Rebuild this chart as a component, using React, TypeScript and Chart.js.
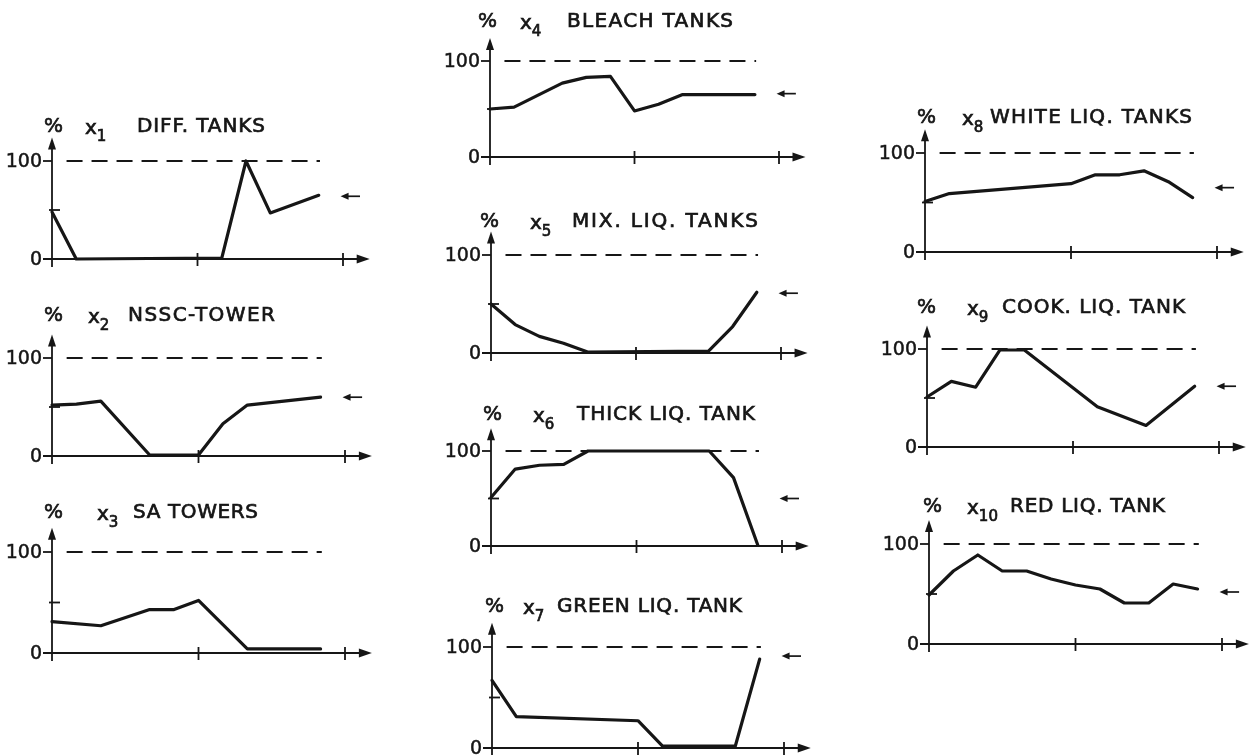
import React, { useEffect, useRef } from "react";
import { Chart, registerables } from "chart.js";

Chart.register(...registerables);

// ---------- data ----------
const panelTitles = [
  "DIFF. TANKS",
  "NSSC-TOWER",
  "SA TOWERS",
  "BLEACH TANKS",
  "MIX. LIQ. TANKS",
  "THICK LIQ. TANK",
  "GREEN LIQ. TANK",
  "WHITE LIQ. TANKS",
  "COOK. LIQ. TANK",
  "RED LIQ. TANK",
];
const panelIndices = ["1", "2", "3", "4", "5", "6", "7", "8", "9", "10"];

const diffTanksHours = [0, 2, 14, 16, 18, 22];
const diffTanksLevel = [48, 0, 1, 100, 47, 65];

const nsscTowerHours = [0, 2, 4, 8, 12, 14, 16, 22];
const nsscTowerLevel = [52, 53, 56, 1, 1, 33, 52, 60];

const saTowersHours = [0, 4, 8, 10, 12, 16, 22];
const saTowersLevel = [31, 27, 43, 43, 52, 4, 4];

const bleachTanksHours = [0, 2, 6, 8, 10, 12, 14, 16, 22];
const bleachTanksLevel = [50, 52, 77, 83, 84, 48, 55, 65, 65];

const mixLiqHours = [0, 2, 4, 6, 8, 18, 20, 22];
const mixLiqLevel = [50, 29, 17, 10, 1, 2, 27, 62];

const thickLiqHours = [0, 2, 4, 6, 8, 18, 20, 22];
const thickLiqLevel = [51, 81, 85, 86, 100, 100, 72, 1];

const greenLiqHours = [0, 2, 12, 14, 20, 22];
const greenLiqLevel = [67, 31, 27, 2, 2, 88];

const whiteLiqHours = [0, 2, 12, 14, 16, 18, 20, 22];
const whiteLiqLevel = [51, 59, 69, 78, 78, 82, 71, 55];

const cookLiqHours = [0, 2, 4, 6, 8, 14, 18, 22];
const cookLiqLevel = [51, 67, 61, 99, 99, 41, 22, 62];

const redLiqHours = [0, 2, 4, 6, 8, 10, 12, 14, 16, 18, 20, 22];
const redLiqLevel = [49, 73, 89, 73, 73, 65, 59, 55, 41, 41, 60, 55];

const seriesHours = [
  diffTanksHours, nsscTowerHours, saTowersHours, bleachTanksHours, mixLiqHours,
  thickLiqHours, greenLiqHours, whiteLiqHours, cookLiqHours, redLiqHours,
];
const seriesLevels = [
  diffTanksLevel, nsscTowerLevel, saTowersLevel, bleachTanksLevel, mixLiqLevel,
  thickLiqLevel, greenLiqLevel, whiteLiqLevel, cookLiqLevel, redLiqLevel,
];

// target (set-point) levels marked by the small arrows at the right
const setpointLevels = [64, 60, null, 66, 61, 50, 91, 65, 62, 52];

const capacityLevel = 100;
const capacityDashFrom = 1.2;
const capacityDashTo = 22.1;
const yTickLabels = ["0", "100"];
const yTickValues = [0, 100];
const yMinorTick = 50;
const xTickValues = [12, 24];
const xMax = 24;
const yMax = 100;
const xAxisEnd = 26.2;
const yAxisEnd = 124;
const arrowFrom = 25.4;
const arrowTo = 23.8;

// ---------- layout (pixel placement of every small diagram) ----------
// ox/oy = origin pixel, top = pixel of the 100 % level, right = pixel of hour 24
const layout = [
  { ox: 52, oy: 259, top: 161, right: 343 },
  { ox: 52, oy: 456, top: 358, right: 345 },
  { ox: 52, oy: 653, top: 552, right: 345 },
  { ox: 490, oy: 157, top: 61, right: 779 },
  { ox: 491, oy: 353, top: 255, right: 781 },
  { ox: 491, oy: 546, top: 451, right: 782 },
  { ox: 492, oy: 748, top: 647, right: 784 },
  { ox: 925, oy: 252, top: 153, right: 1217 },
  { ox: 927, oy: 447, top: 349, right: 1219 },
  { ox: 929, oy: 644, top: 544, right: 1222 },
];
// title placement relative to origin: % sign, x symbol, label start, label width, vertical offset
const titleLayout = [
  { pct: -8, sym: 33, lab: 85, w: 128, dy: -34 },
  { pct: -8, sym: 36, lab: 76, w: 147, dy: -42 },
  { pct: -8, sym: 45, lab: 81, w: 125, dy: -39 },
  { pct: -12, sym: 30, lab: 77, w: 166, dy: -39 },
  { pct: -11, sym: 39, lab: 81, w: 186, dy: -33 },
  { pct: -8, sym: 42, lab: 86, w: 178, dy: -36 },
  { pct: -7, sym: 31, lab: 65, w: 185, dy: -40 },
  { pct: -8, sym: 37, lab: 65, w: 202, dy: -35 },
  { pct: -10, sym: 40, lab: 75, w: 183, dy: -41 },
  { pct: -6, sym: 38, lab: 81, w: 155, dy: -37 },
];

const PAD_L = 66;
const PAD_T = 64;
const PAD_R = 45;
const PAD_B = 14;
const INK = "#161616";
const FONT = '"DejaVu Sans", "Liberation Sans", sans-serif';

function makePlugin(i: number) {
  return {
    id: "sketchAxes" + i,
    beforeDatasetsDraw(chart: any) {
      const { ctx } = chart;
      const xs = chart.scales.x;
      const ys = chart.scales.y;
      const X = (v: number) => xs.getPixelForValue(v);
      const Y = (v: number) => ys.getPixelForValue(v);
      const x0 = X(0);
      const y0 = Y(0);
      ctx.save();
      ctx.strokeStyle = INK;
      ctx.fillStyle = INK;
      ctx.lineWidth = 1.8;
      ctx.lineCap = "butt";

      // x axis with arrow head
      const xTip = X(xAxisEnd);
      ctx.beginPath();
      ctx.moveTo(x0 - 9, y0);
      ctx.lineTo(xTip - 8, y0);
      ctx.stroke();
      ctx.beginPath();
      ctx.moveTo(xTip, y0);
      ctx.lineTo(xTip - 13, y0 - 4.5);
      ctx.lineTo(xTip - 13, y0 + 4.5);
      ctx.closePath();
      ctx.fill();

      // y axis with arrow head
      const yTip = Y(yAxisEnd);
      ctx.beginPath();
      ctx.moveTo(x0, y0 + 8);
      ctx.lineTo(x0, yTip + 8);
      ctx.stroke();
      ctx.beginPath();
      ctx.moveTo(x0, yTip);
      ctx.lineTo(x0 - 4, yTip + 12);
      ctx.lineTo(x0 + 4, yTip + 12);
      ctx.closePath();
      ctx.fill();

      // y ticks
      yTickValues.forEach((v) => {
        ctx.beginPath();
        ctx.moveTo(x0 - 9, Y(v));
        ctx.lineTo(x0, Y(v));
        ctx.stroke();
      });
      ctx.beginPath();
      ctx.moveTo(x0 - 3, Y(yMinorTick));
      ctx.lineTo(x0 + 8, Y(yMinorTick));
      ctx.stroke();

      // x ticks
      xTickValues.forEach((v) => {
        ctx.beginPath();
        ctx.moveTo(X(v), y0 - 6);
        ctx.lineTo(X(v), y0 + 7);
        ctx.stroke();
      });

      // y tick labels
      ctx.font = `19px ${FONT}`;
      ctx.textAlign = "right";
      ctx.textBaseline = "middle";
      ctx.lineWidth = 0.5;
      yTickValues.forEach((v, k) => {
        ctx.fillText(yTickLabels[k], x0 - 10, Y(v) + 1);
        ctx.strokeText(yTickLabels[k], x0 - 10, Y(v) + 1);
      });

      // title
      const t = titleLayout[i];
      const ty = Y(yMax) + t.dy;
      ctx.textAlign = "left";
      ctx.font = `20px ${FONT}`;
      ctx.lineWidth = 0.7;
      ctx.fillText("%", x0 + t.pct, ty);
      ctx.strokeText("%", x0 + t.pct, ty);
      ctx.fillText("x", x0 + t.sym, ty + 2);
      ctx.strokeText("x", x0 + t.sym, ty + 2);
      const xw = ctx.measureText("x").width;
      ctx.font = `15px ${FONT}`;
      ctx.fillText(panelIndices[i], x0 + t.sym + xw, ty + 10);
      ctx.strokeText(panelIndices[i], x0 + t.sym + xw, ty + 10);
      ctx.font = `20px ${FONT}`;
      const label = panelTitles[i];
      const w = ctx.measureText(label).width;
      const ls = (t.w - w) / Math.max(1, label.length - 1);
      (ctx as any).letterSpacing = `${ls.toFixed(2)}px`;
      ctx.fillText(label, x0 + t.lab, ty);
      ctx.strokeText(label, x0 + t.lab, ty);
      (ctx as any).letterSpacing = "0px";

      // set-point arrow
      const sp = setpointLevels[i];
      if (sp !== null) {
        const ay = Y(sp);
        const ax1 = X(arrowFrom);
        const ax2 = X(arrowTo);
        ctx.lineWidth = 1.7;
        ctx.beginPath();
        ctx.moveTo(ax1, ay);
        ctx.lineTo(ax2 + 6, ay);
        ctx.stroke();
        ctx.beginPath();
        ctx.moveTo(ax2, ay);
        ctx.lineTo(ax2 + 8, ay - 3.5);
        ctx.lineTo(ax2 + 8, ay + 3.5);
        ctx.closePath();
        ctx.fill();
      }
      ctx.restore();
    },
  };
}

export default function App() {
  const canvasRefs = useRef<(HTMLCanvasElement | null)[]>([]);

  useEffect(() => {
    const charts: Chart[] = [];
    layout.forEach((l, i) => {
      const cv = canvasRefs.current[i];
      if (!cv) return;
      const points = seriesHours[i].map((h, k) => ({ x: h, y: seriesLevels[i][k] }));
      const chart = new Chart(cv, {
        type: "line",
        data: {
          datasets: [
            {
              data: points,
              borderColor: INK,
              borderWidth: 3.2,
              pointRadius: 0,
              tension: 0,
              fill: false,
              clip: false,
              borderJoinStyle: "round",
              borderCapStyle: "round",
            } as any,
            {
              data: [
                { x: capacityDashFrom, y: capacityLevel },
                { x: capacityDashTo, y: capacityLevel },
              ],
              borderColor: INK,
              borderWidth: 2,
              borderDash: [16, 9],
              pointRadius: 0,
              fill: false,
              clip: false,
            } as any,
          ],
        },
        options: {
          responsive: false,
          animation: false,
          events: [],
          layout: { padding: { left: PAD_L, top: PAD_T, right: PAD_R, bottom: PAD_B } },
          plugins: { legend: { display: false }, tooltip: { enabled: false } },
          scales: {
            x: { type: "linear", display: false, min: 0, max: xMax },
            y: { type: "linear", display: false, min: 0, max: yMax },
          },
        },
        plugins: [makePlugin(i)],
      });
      charts.push(chart);
    });
    return () => charts.forEach((c) => c.destroy());
  }, []);

  return (
    <div
      style={{
        position: "absolute",
        left: 0,
        top: 0,
        width: 1260,
        height: 755,
        overflow: "hidden",
        background: "#ffffff",
      }}
    >
      {layout.map((l, i) => {
        const w = l.right - l.ox + PAD_L + PAD_R;
        const h = l.oy - l.top + PAD_T + PAD_B;
        return (
          <canvas
            key={i}
            ref={(el) => {
              canvasRefs.current[i] = el;
            }}
            width={w}
            height={h}
            style={{
              position: "absolute",
              left: l.ox - PAD_L,
              top: l.top - PAD_T,
              width: w,
              height: h,
            }}
          />
        );
      })}
    </div>
  );
}
